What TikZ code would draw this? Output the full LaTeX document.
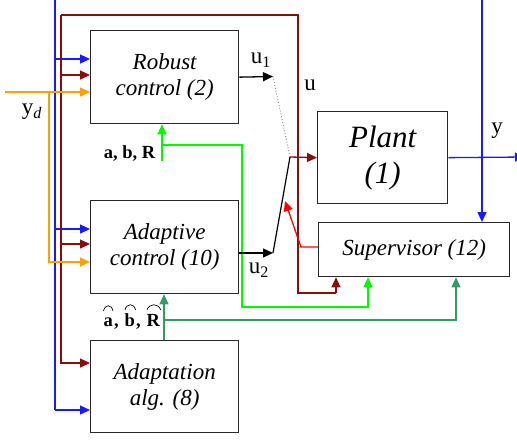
\documentclass[tikz,border=0pt]{standalone}
\usepackage{fontspec}
\setmainfont{Liberation Serif}
\usetikzlibrary{arrows.meta,calc}
\definecolor{myblue}{RGB}{25,25,255}
\definecolor{dred}{RGB}{140,12,12}
\definecolor{orng}{RGB}{255,160,0}
\definecolor{lgreen}{RGB}{0,250,0}
\definecolor{sgreen}{RGB}{50,155,100}
\definecolor{boxgray}{RGB}{40,40,40}
\begin{document}
\begin{tikzpicture}[x=1pt,y=-1pt,line width=1.3pt,
  >={Triangle[length=10pt,width=9pt]},
  blk/.style={draw=boxgray,line width=1.3pt,align=center,inner sep=0pt,anchor=north west,
    font=\fontsize{23}{26}\selectfont\itshape},
  lbl/.style={font=\fontsize{23}{26}\selectfont,inner sep=0pt},
  blbl/.style={font=\fontsize{18.5}{22}\selectfont\bfseries,inner sep=0pt,anchor=base east},
  hl/.style={font=\fontsize{18.5}{22}\selectfont\bfseries,inner sep=0pt,anchor=base west},
  arcst/.style={line width=0.7pt,black}]
\clip (0,0) rectangle (517,440);
\useasboundingbox (0,0) rectangle (517,440);
% blocks
\node[blk,minimum width=148pt,minimum height=93pt] (rob) at (90,30) {Robust\\control (2)};
\node[blk,minimum width=148pt,minimum height=93pt] (adc) at (90,200) {Adaptive\\control (10)};
\node[blk,minimum width=148pt,minimum height=92pt] (ada) at (90,340) {Adaptation\\alg. (8)};
\node[blk,minimum width=130pt,minimum height=92pt,font=\fontsize{31}{36}\selectfont\itshape] (plant) at (317,111) {Plant\\(1)};
\node[blk,minimum width=191pt,minimum height=54pt] (sup) at (318,222) {Supervisor (12)};
% coordinates
\coordinate (btop) at (55,0);
\coordinate (rtop) at (482,0);
\coordinate (yout) at (525,157);
\coordinate (ydin) at (5,92);
\coordinate (piv) at (290,157);
\coordinate (sw1) at (273,76.5);
\coordinate (sw2) at (273,253);
% blue feedback
\draw[myblue] (btop) -- (55,410);
\draw[myblue,->] (55,410) -- (ada.west |- 0,410);
\draw[myblue,->] (55,59) -- (rob.west |- 0,59);
\draw[myblue,->] (55,229) -- (adc.west |- 0,229);
\draw[myblue,->] (plant.east) -- (yout);
\draw[myblue,->] (rtop) -- (sup.north -| rtop);
% dark red u
\draw[dred,->] (piv) -- (plant.west);
\draw[dred] (61,15) -- (298,15) -- (298,293) -- (336,293);
\draw[dred,->] (336,293) -- (sup.south -| 336,0);
\draw[dred,->] (61,15) -- (61,363) -- (ada.west |- 0,363);
\draw[dred,->] (61,75) -- (rob.west |- 0,75);
\draw[dred,->] (61,244) -- (adc.west |- 0,244);
% orange yd
\draw[orng,->] (ydin) -- (rob.west |- ydin);
\draw[orng,->] (49,92) -- (49,262) -- (adc.west |- 0,262);
% green a,b,R
\draw[lgreen,->] (162,161) -- (rob.south -| 162,0);
\draw[lgreen,->] (162,145) -- (242,145) -- (242,307) -- (368,307) -- (sup.south -| 368,0);
% sea green estimates
\draw[sgreen,->] (ada.north -| 164,0) -- (adc.south -| 164,0);
\draw[sgreen,->] (164,320) -- (456,320) -- (sup.south -| 456,0);
% switch
\draw[->] (rob.east) -- (sw1);
\draw[->] (adc.east |- sw2) -- (sw2);
\draw[line width=1.2pt] (sw2) -- (piv);
\draw[gray,dotted,line width=0.9pt] (sw1) -- (piv);
\draw[red,->] (sup.west |- 0,247) -- (301,247) -- (285,201);
% labels
\node[lbl] (lu1) at (261,60) {u\textsubscript{1}};
\node[lbl] (lu) at (310,85) {u};
\node[lbl] (ly) at (497,131) {y};
\node[lbl] (lyd) at (32,112) {y\textsubscript{\itshape d}};
\node[lbl] (lu2) at (259,270) {u\textsubscript{2}};
\node[blbl] (labr) at (156,158) {a, b, R};
% estimated parameters with arc accents
\node[hl] (ha) at (103,326) {a};
\node[hl] (c1) at (ha.base east) {,};
\node[hl] (hb) at ($(c1.base east)+(4.5,0)$) {b};
\node[hl] (c2) at (hb.base east) {,};
\node[hl] (hr) at ($(c2.base east)+(4.5,0)$) {R};
\draw[arcst] ($(ha.base west)+(0.5,-15)$) .. controls +(1.5,-7) and +(-1.5,-7) .. ($(ha.base east)+(-0.5,-15)$);
\draw[arcst] ($(hb.base west)+(1,-16)$) .. controls +(1.5,-7) and +(-1.5,-7) .. ($(hb.base east)+(0,-16)$);
\draw[arcst] ($(hr.base west)+(1,-16)$) .. controls +(2,-7) and +(-2,-7) .. ($(hr.base east)+(0,-16)$);
\end{tikzpicture}
\end{document}
